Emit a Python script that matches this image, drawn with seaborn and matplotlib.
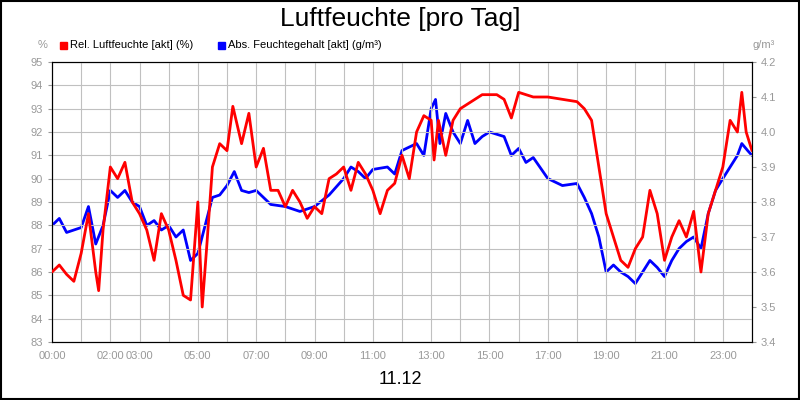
import matplotlib
matplotlib.use("Agg")
import matplotlib.pyplot as plt
import seaborn as sns
import pandas as pd

sns.set_style("white")
plt.rcParams["font.family"] = ["Liberation Sans", "DejaVu Sans"]
plt.rcParams["text.color"] = "black"

# relative humidity (%) - hours of day
rel_hours = [0, 0.25, 0.5, 0.75, 1.0, 1.25, 1.5, 1.6, 1.75, 2.0, 2.25, 2.5, 2.75, 3.0, 3.25, 3.5,
             3.75, 4.0, 4.25, 4.5, 4.75, 5.0, 5.15, 5.3, 5.5, 5.75, 6.0, 6.2, 6.5, 6.75, 7.0, 7.25,
             7.5, 7.75, 8.0, 8.25, 8.5, 8.75, 9.0, 9.25, 9.5, 9.75, 10.0, 10.25, 10.5, 10.75, 11.0,
             11.25, 11.5, 11.75, 12.0, 12.25, 12.5, 12.75, 13.0, 13.1, 13.25, 13.5, 13.75, 14.0,
             14.25, 14.5, 14.75, 15.0, 15.25, 15.5, 15.75, 16.0, 16.5, 17.0, 17.5, 18.0, 18.25,
             18.5, 18.75, 19.0, 19.25, 19.5, 19.75, 20.0, 20.25, 20.5, 20.75, 21.0, 21.25, 21.5,
             21.75, 22.0, 22.25, 22.5, 22.75, 23.0, 23.25, 23.5, 23.65, 23.8, 24.0]
rel_values = [86.0, 86.3, 85.9, 85.6, 86.8, 88.5, 86.0, 85.2, 87.8, 90.5, 90.0, 90.7, 89.0, 88.5,
              87.8, 86.5, 88.5, 87.8, 86.5, 85.0, 84.8, 89.0, 84.5, 87.0, 90.5, 91.5, 91.2, 93.1,
              91.5, 92.8, 90.5, 91.3, 89.5, 89.5, 88.8, 89.5, 89.0, 88.3, 88.8, 88.5, 90.0, 90.2,
              90.5, 89.5, 90.7, 90.2, 89.5, 88.5, 89.5, 89.8, 91.0, 90.0, 92.0, 92.7, 92.5, 90.8,
              92.5, 91.0, 92.5, 93.0, 93.2, 93.4, 93.6, 93.6, 93.6, 93.4, 92.6, 93.7, 93.5, 93.5,
              93.4, 93.3, 93.0, 92.5, 90.5, 88.5, 87.5, 86.5, 86.2, 87.0, 87.5, 89.5, 88.5, 86.5,
              87.5, 88.2, 87.5, 88.6, 86.0, 88.5, 89.5, 90.5, 92.5, 92.0, 93.7, 92.0, 91.2]

# absolute moisture content (g/m³)
abs_hours = [0, 0.25, 0.5, 1.0, 1.25, 1.5, 1.75, 2.0, 2.25, 2.5, 2.75, 3.0, 3.25, 3.5, 3.75, 4.0,
             4.25, 4.5, 4.75, 5.0, 5.25, 5.5, 5.75, 6.0, 6.25, 6.5, 6.75, 7.0, 7.5, 8.0, 8.5, 9.0,
             9.5, 10.0, 10.25, 10.5, 10.75, 11.0, 11.5, 11.75, 12.0, 12.5, 12.75, 13.0, 13.15,
             13.3, 13.5, 13.75, 14.0, 14.25, 14.5, 14.75, 15.0, 15.5, 15.75, 16.0, 16.25, 16.5,
             17.0, 17.5, 18.0, 18.25, 18.5, 18.75, 19.0, 19.25, 19.5, 19.75, 20.0, 20.25, 20.5,
             20.75, 21.0, 21.25, 21.5, 21.75, 22.0, 22.25, 22.5, 22.75, 23.0, 23.25, 23.5, 23.65,
             23.85, 24.0]
abs_values = [3.733, 3.753, 3.713, 3.727, 3.787, 3.68, 3.733, 3.833, 3.813, 3.833, 3.80, 3.787,
              3.733, 3.747, 3.72, 3.733, 3.70, 3.72, 3.633, 3.653, 3.733, 3.813, 3.82, 3.847,
              3.887, 3.833, 3.827, 3.833, 3.793, 3.787, 3.773, 3.787, 3.82, 3.867, 3.90, 3.887,
              3.867, 3.893, 3.90, 3.88, 3.947, 3.967, 3.933, 4.067, 4.093, 3.967, 4.053, 4.0,
              3.967, 4.033, 3.967, 3.987, 4.0, 3.987, 3.933, 3.953, 3.913, 3.927, 3.867, 3.847,
              3.853, 3.813, 3.767, 3.70, 3.60, 3.62, 3.60, 3.587, 3.567, 3.60, 3.633, 3.613,
              3.587, 3.633, 3.667, 3.687, 3.70, 3.667, 3.767, 3.833, 3.867, 3.90, 3.933, 3.967,
              3.947, 3.933]

tick_hours = [0, 2, 3, 5, 7, 9, 11, 13, 15, 17, 19, 21, 23]
tick_labels = ["00:00", "02:00", "03:00", "05:00", "07:00", "09:00", "11:00",
               "13:00", "15:00", "17:00", "19:00", "21:00", "23:00"]

rel_df = pd.DataFrame({"hour": rel_hours, "value": rel_values})
abs_df = pd.DataFrame({"hour": abs_hours, "value": abs_values})

fig = plt.figure(figsize=(8, 4), dpi=100)
ax = fig.add_axes([0.065, 0.145, 0.875, 0.70])
ax2 = ax.twinx()

sns.lineplot(data=rel_df, x="hour", y="value", ax=ax, color="#ff0000", linewidth=2, zorder=3)
sns.lineplot(data=abs_df, x="hour", y="value", ax=ax2, color="#0000ff", linewidth=2)
ax.set_zorder(ax2.get_zorder() + 1)
ax.patch.set_visible(False)

ax.set_xlim(0, 24)
ax.set_ylim(83, 95)
ax2.set_ylim(3.4, 4.2)
ax.set_yticks(range(83, 96))
ax2.set_yticks([3.4 + 0.1 * i for i in range(9)])
ax2.set_yticklabels([f"{3.4 + 0.1 * i:.1f}" for i in range(9)])
ax.set_xticks(range(25), minor=True)
ax.set_xticks(tick_hours)
ax.set_xticklabels(tick_labels)
ax.grid(True, which="both", color="#c0c0c0", linewidth=0.8)
ax.set_xlabel("")
ax.set_ylabel("")
ax2.set_ylabel("")
for a in (ax, ax2):
    a.tick_params(labelsize=8, labelcolor="#999999", length=3, color="#999999")
    for s in a.spines.values():
        s.set_color("black")

fig.text(0.5, 0.952, "Luftfeuchte [pro Tag]", ha="center", va="center", fontsize=19, color="black")
fig.text(0.053, 0.88, "%", ha="center", fontsize=8, color="#999999")
fig.text(0.955, 0.88, "g/m³", ha="center", fontsize=8, color="#999999")
fig.text(0.5, 0.05, "11.12", ha="center", va="center", fontsize=13, color="black")

fig.patches.append(plt.Rectangle((0.075, 0.878), 0.009, 0.018, color="#ff0000", transform=fig.transFigure))
fig.text(0.088, 0.887, "Rel. Luftfeuchte [akt] (%)", va="center", fontsize=8, color="black")
fig.patches.append(plt.Rectangle((0.272, 0.878), 0.009, 0.018, color="#0000ff", transform=fig.transFigure))
fig.text(0.285, 0.887, "Abs. Feuchtegehalt [akt] (g/m³)", va="center", fontsize=8, color="black")

fig.patches.append(plt.Rectangle((0.001, 0.002), 0.998, 0.996, fill=False, edgecolor="black",
                                 linewidth=1.5, transform=fig.transFigure))

fig.savefig("out.png", dpi=100)
